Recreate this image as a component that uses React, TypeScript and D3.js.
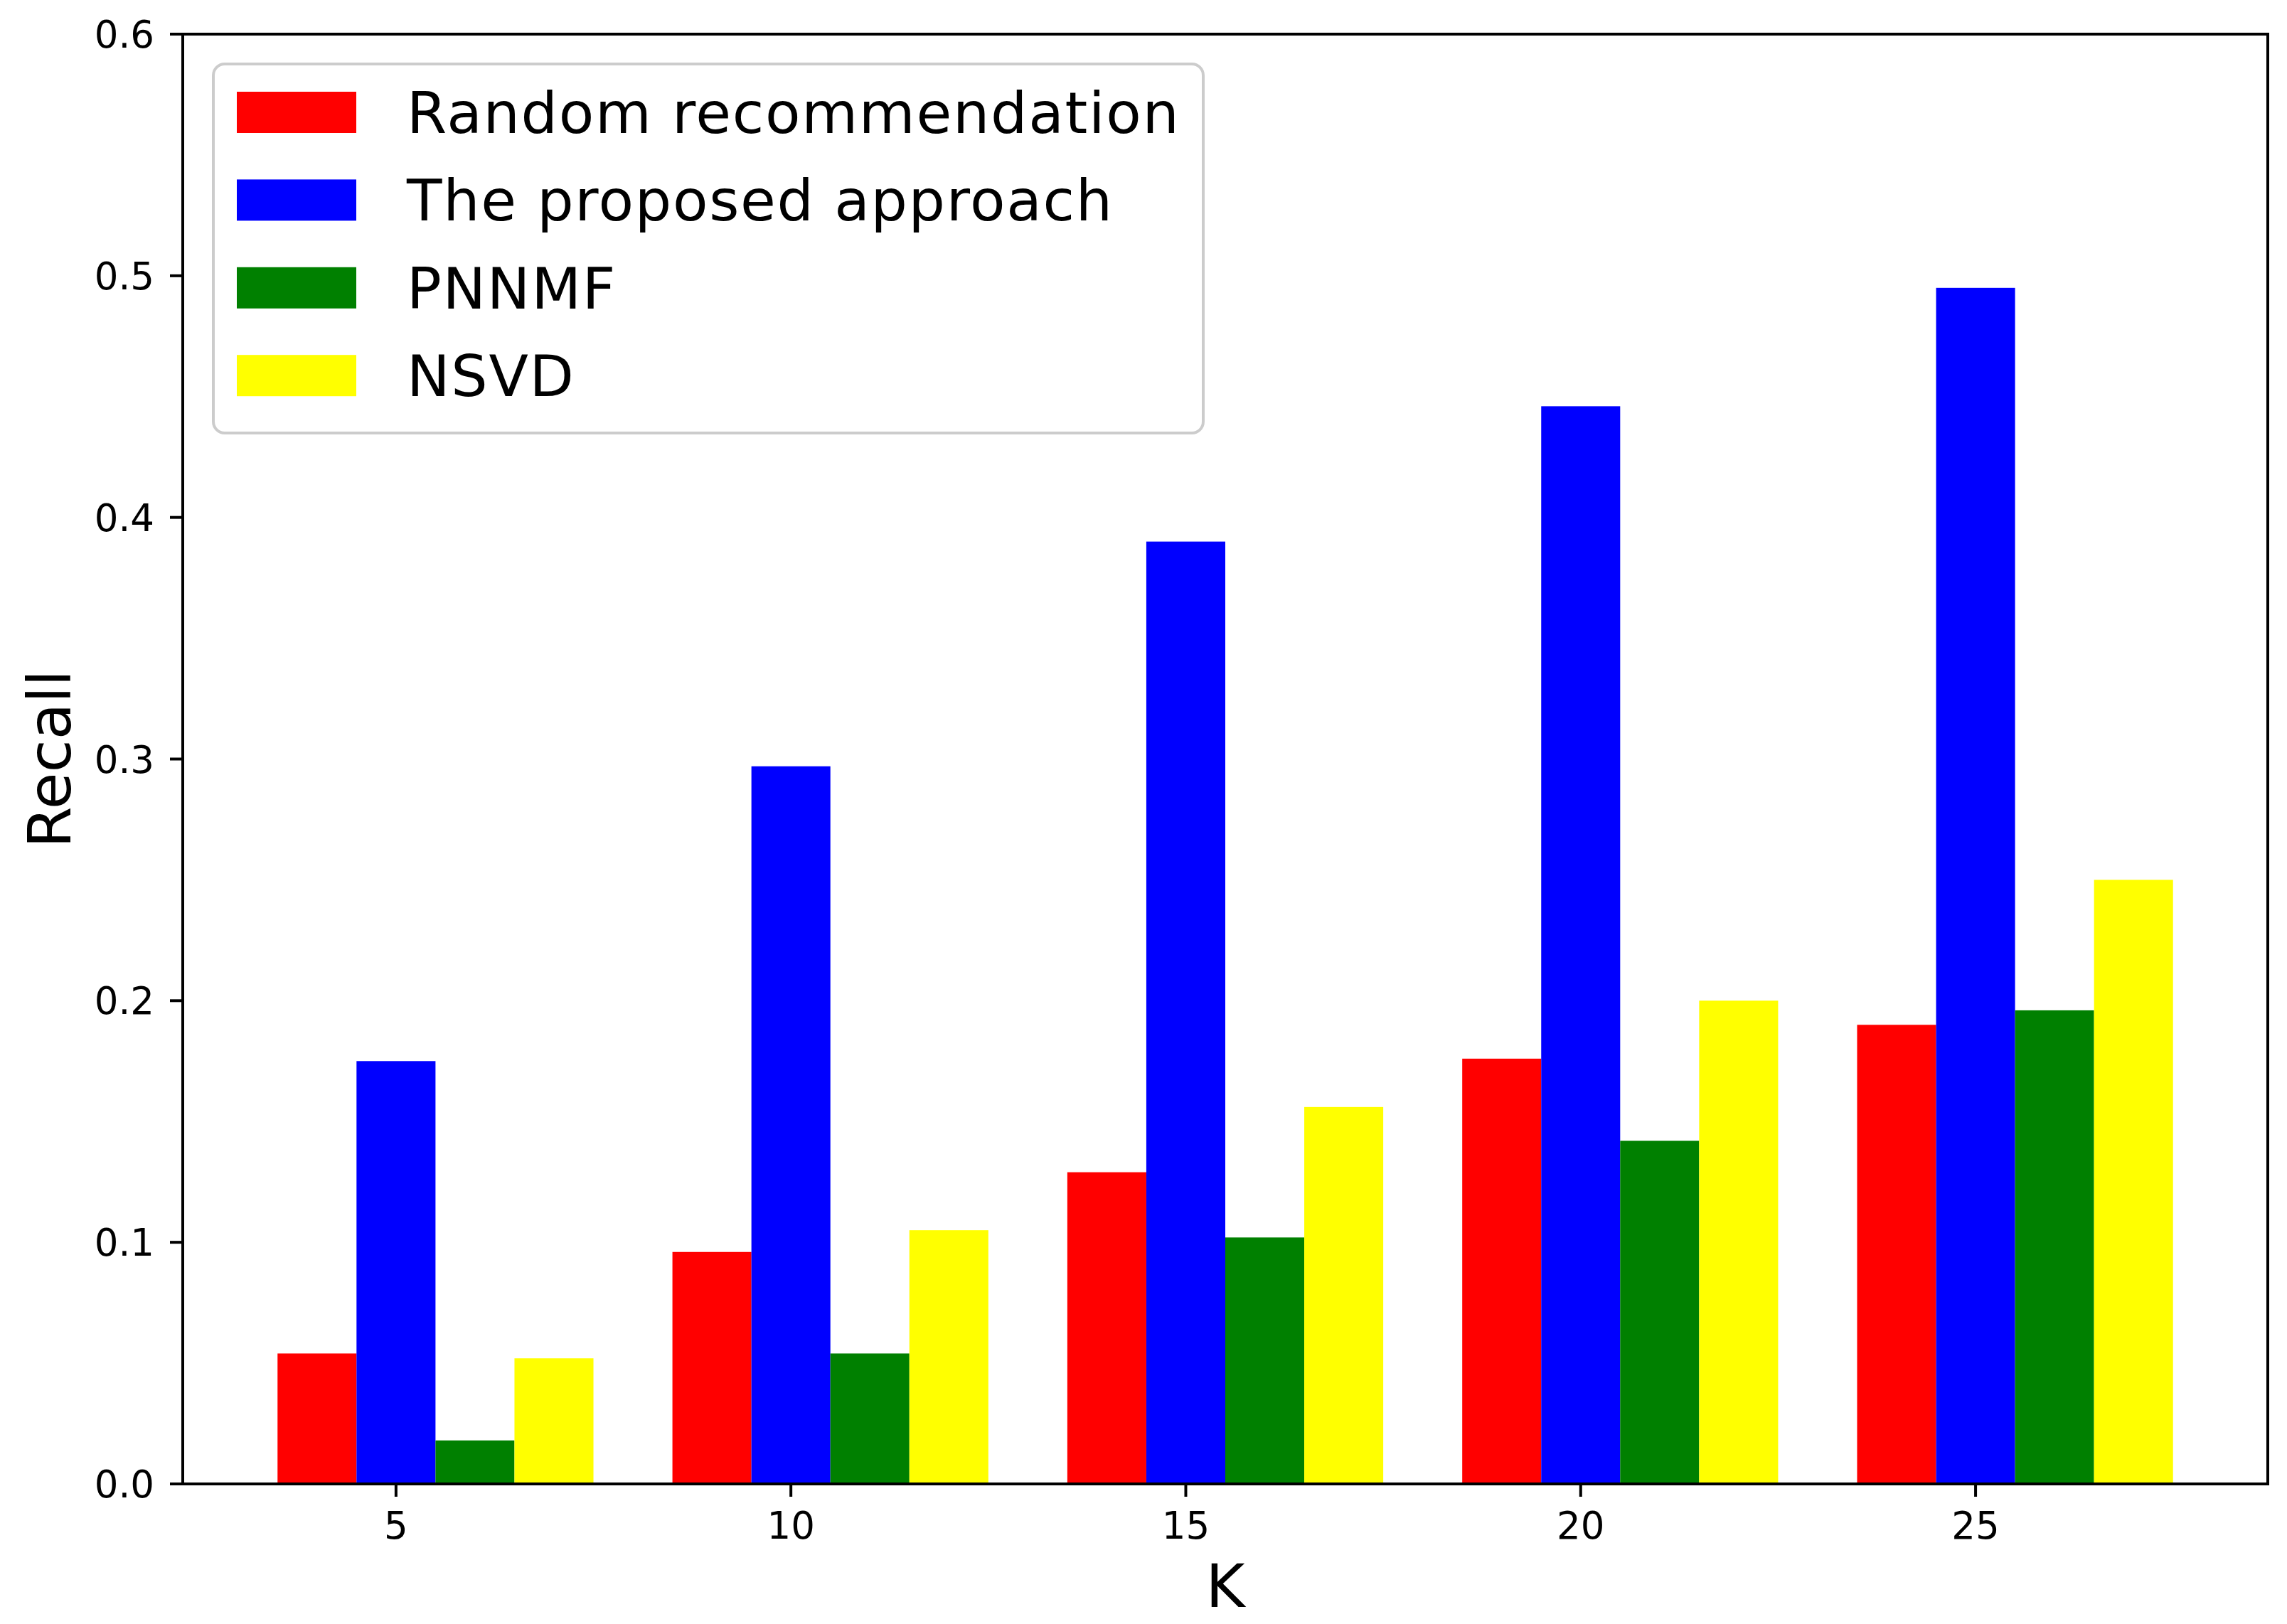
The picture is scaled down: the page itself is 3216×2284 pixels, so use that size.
import React from "react";
import * as d3 from "d3";

const categories = [5, 10, 15, 20, 25];
const randomRec = [0.054, 0.096, 0.129, 0.176, 0.19];
const proposed = [0.175, 0.297, 0.39, 0.446, 0.495];
const pnnmf = [0.018, 0.054, 0.102, 0.142, 0.196];
const nsvd = [0.052, 0.105, 0.156, 0.2, 0.25];
const seriesNames = ["Random recommendation", "The proposed approach", "PNNMF", "NSVD"];
const seriesColors = ["#ff0000", "#0000ff", "#008000", "#ffff00"];
const yTicks = [0, 0.1, 0.2, 0.3, 0.4, 0.5, 0.6];

const W = 3216;
const H = 2284;
const L = 257, R = 3189, T = 48, B = 2087;
const FONT = "'DejaVu Sans', sans-serif";

export default function App() {
  const series = [randomRec, proposed, pnnmf, nsvd];
  const offsets = [-1, 0, 1, 2];
  const x = d3.scaleLinear().domain([2.3, 28.7]).range([L, R]);
  const y = d3.scaleLinear().domain([0, 0.6]).range([B, T]);

  return (
    <svg width={W} height={H} style={{ position: "absolute", left: 0, top: 0, background: "#fff" }}>
      <rect x={0} y={0} width={W} height={H} fill="#fff" />
      {series.map((vals, si) =>
        vals.map((v, i) => {
          const k = categories[i];
          const x0 = x(k + offsets[si] - 0.5);
          const x1 = x(k + offsets[si] + 0.5);
          return (
            <rect key={`${si}-${i}`} x={x0} y={y(v)} width={x1 - x0} height={y(0) - y(v)} fill={seriesColors[si]} />
          );
        })
      )}
      {/* spines */}
      <rect x={L} y={T} width={R - L} height={B - T} fill="none" stroke="#000" strokeWidth={4} />
      {/* y ticks */}
      {yTicks.map((t) => (
        <g key={`y${t}`}>
          <line x1={L - 18} x2={L} y1={y(t)} y2={y(t)} stroke="#000" strokeWidth={4} />
          <text x={217} y={y(t) + 19} textAnchor="end" fontFamily={FONT} fontSize={53} fill="#000">
            {t.toFixed(1)}
          </text>
        </g>
      ))}
      {/* x ticks */}
      {categories.map((k) => (
        <g key={`x${k}`}>
          <line x1={x(k)} x2={x(k)} y1={B} y2={B + 18} stroke="#000" strokeWidth={4} />
          <text x={x(k)} y={2164} textAnchor="middle" fontFamily={FONT} fontSize={53} fill="#000">
            {k}
          </text>
        </g>
      ))}
      {/* axis labels */}
      <text x={(L + R) / 2} y={2260} textAnchor="middle" fontFamily={FONT} fontSize={84} fill="#000">
        K
      </text>
      <text
        transform={`translate(99, ${(T + B) / 2}) rotate(-90)`}
        textAnchor="middle"
        fontFamily={FONT}
        fontSize={84}
        fill="#000"
      >
        Recall
      </text>
      {/* legend */}
      <rect x={300} y={90} width={1392} height={519} rx={16} ry={16} fill="#fff" fillOpacity={0.8} stroke="#cccccc" strokeWidth={4} />
      {seriesNames.map((name, i) => {
        const top = 129 + i * 123.4;
        return (
          <g key={name}>
            <rect x={333} y={top} width={168} height={58} fill={seriesColors[i]} />
            <text x={572} y={top + 58} fontFamily={FONT} fontSize={81} letterSpacing={1.7} fill="#000">
              {name}
            </text>
          </g>
        );
      })}
    </svg>
  );
}
